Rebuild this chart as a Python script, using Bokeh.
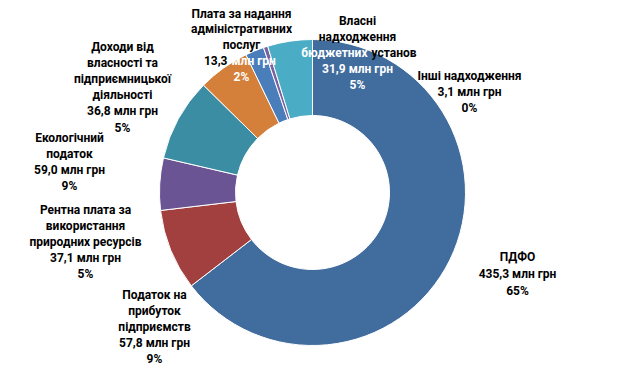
import math
from bokeh.plotting import figure
from bokeh.models import ColumnDataSource, Range1d
from bokeh.core.properties import value
from bokeh.embed import file_html
from bokeh.resources import INLINE

# ---- data ----
categories = ["ПДФО", "Податок на прибуток підприємств", "Рентна плата за використання природних ресурсів",
              "Екологічний податок", "Доходи від власності та підприємницької діяльності",
              "Плата за надання адміністративних послуг", "Інші надходження",
              "Власні надходження бюджетних установ"]
values_mln = [435.3, 57.8, 37.1, 59.0, 36.8, 13.3, 3.1, 31.9]
percent_labels = [65, 9, 5, 9, 5, 2, 0, 5]
label_lines = [
    ["ПДФО"],
    ["Податок на", "прибуток", "підприємств"],
    ["Рентна плата за", "використання", "природних ресурсів"],
    ["Екологічний", "податок"],
    ["Доходи від", "власності та", "підприємницької", "діяльності"],
    ["Плата за надання", "адміністративних", "послуг"],
    ["Інші надходження"],
    ["Власні", "надходження", "бюджетних установ"],
]

# ---- styles / layout ----
colors = ["#416C9E", "#A1403E", "#6A5493", "#3B8DA4", "#D4803A", "#4A7EBB", "#7A62A0", "#4BACC6"]
W, H = 624, 368
CXI, CYI = 312, 192        # donut centre (page px)
R_OUT, R_IN = 153, 77
# label block: (centre x, first-line y) in page pixel coordinates, line spacing
label_anchor = [(517, 256), (154, 294), (85, 209), (69, 137), (122, 46), (241, 13), (469, 75), (357, 20)]
line_step = [17, 16.2, 16.2, 16.3, 16.2, 15.8, 16, 16]
FONT = "Roboto"
FSIZE = "12px"

def px(ix):
    return ix

def py(iy):
    return H - iy

total = sum(values_mln)
starts, ends = [], []
acc = 0.0
for v in values_mln:
    starts.append(math.pi / 2 - acc / total * 2 * math.pi)
    acc += v
    ends.append(math.pi / 2 - acc / total * 2 * math.pi)

p = figure(width=W, height=H, output_backend="svg", toolbar_location=None,
           x_range=Range1d(0, W), y_range=Range1d(0, H), min_border=0)
p.axis.visible = False
p.grid.visible = False
p.outline_line_color = None
p.background_fill_color = "white"

src = ColumnDataSource(dict(start=starts, end=ends, color=colors, cat=categories, val=values_mln))
p.annular_wedge(x=px(CXI), y=py(CYI), inner_radius=R_IN, outer_radius=R_OUT, start_angle="start",
                end_angle="end", direction="clock", fill_color="color", line_color="white",
                line_width=1, source=src)

# ---- labels ----
tx, ty, tt, tc, ta = [], [], [], [], []

def add(x, y, t, c="black", a="center"):
    tx.append(px(x)); ty.append(py(y)); tt.append(t); tc.append(c); ta.append(a)

# segments whose text lies over the slices are white (as in the reference)
for i, lines in enumerate(label_lines):
    ax, ay = label_anchor[i]
    step = line_step[i]
    val_txt = f"{values_mln[i]:.1f}".replace(".", ",")
    allines = lines + [val_txt + " млн грн", f"{percent_labels[i]}%"]
    for j, ln in enumerate(allines):
        y = ay + j * step
        if i == 5 and j == len(lines):          # "13,3" black | "млн грн" white
            add(227, y, val_txt, "black", "right")
            add(231, y, "млн грн", "white", "left")
        elif i == 7 and ln == "бюджетних установ":
            add(367, y, "бюджетних", "white", "right")
            add(371, y, "установ", "black", "left")
        elif (i == 5 or i == 7) and j >= len(lines):
            add(ax, y, ln, "white")
        else:
            add(ax, y, ln)

lsrc = ColumnDataSource(dict(x=tx, y=ty, text=tt, color=tc, align=ta))
p.text(x="x", y="y", text="text", text_color="color", text_align="align", text_baseline="middle",
       text_font=value(FONT), text_font_style="bold", text_font_size=FSIZE, source=lsrc)

open("out.html", "w").write(file_html(p, INLINE))
